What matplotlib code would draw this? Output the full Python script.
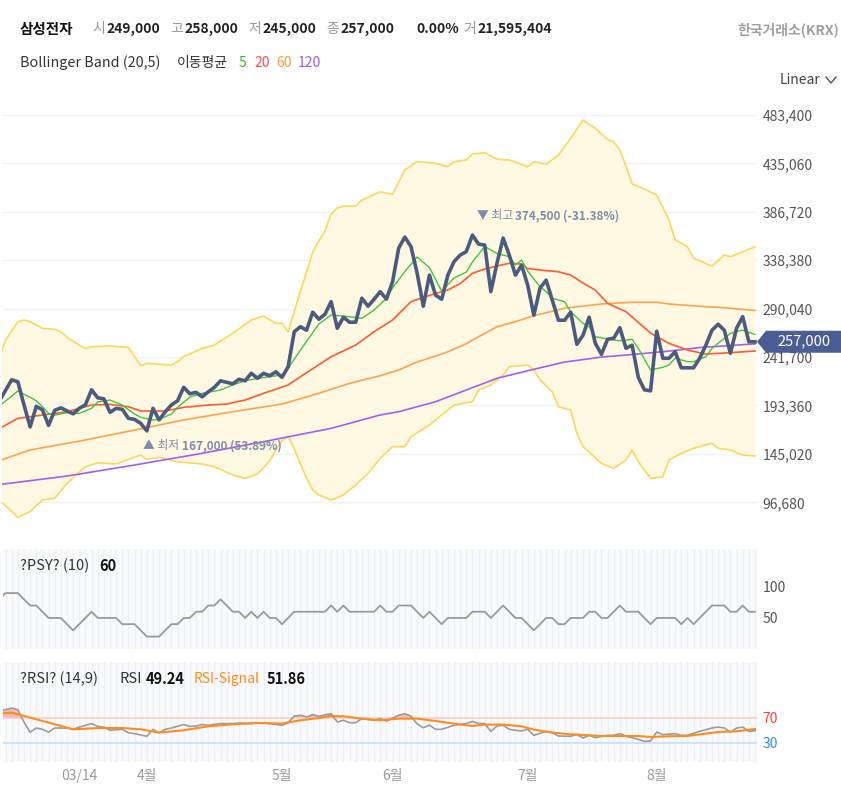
import numpy as np
import matplotlib
matplotlib.use("Agg")
import matplotlib.pyplot as plt
import matplotlib.transforms as mtransforms
from matplotlib.patches import Polygon
from matplotlib.lines import Line2D

plt.rcParams['font.family'] = ['Noto Sans CJK KR', 'DejaVu Sans']

# ---- values (index = trading day) ----
close = [198000, 208500, 219000, 217000, 194000, 172000, 192500, 189000, 173500, 188500,
         191000, 188000, 185000, 190500, 194000, 209000, 201000, 200000, 186500, 190500,
         189500, 180500, 179500, 175500, 168000, 190500, 179000, 187000, 194000, 198000,
         211500, 205000, 206500, 202000, 207000, 211500, 218000, 216500, 215000, 219500,
         218000, 225500, 220500, 225500, 223000, 227000, 221500, 232000, 267000, 272000,
         268500, 286500, 279500, 284500, 297000, 270500, 281500, 276500, 276500, 300500,
         292500, 299500, 307000, 299500, 317000, 350500, 361500, 352000, 325500, 292500,
         323500, 303500, 299500, 323500, 337000, 343500, 347000, 363500, 354500, 353500,
         307000, 335500, 360500, 343500, 323500, 333500, 313500, 283500, 310500, 318500,
         298500, 278500, 278500, 286500, 254500, 263500, 281500, 255500, 244500, 259500,
         260500, 271000, 250500, 253500, 221500, 209000, 208000, 267500, 240500, 240500,
         247000, 231000, 231000, 231000, 240500, 253500, 268500, 274500, 268500, 245500,
         270500, 282000, 257000, 257000]

ma5_x = [0, 3, 5, 6, 7, 8, 9, 11, 13, 15, 16, 18, 20, 22, 23, 25, 26, 28, 29, 31,
         33, 36, 38, 40, 43, 46, 47, 49, 52, 54, 57, 59, 61, 63, 64, 66, 68, 70, 72, 74,
         76, 77, 79, 81, 83, 84, 85, 86, 87, 88, 89, 90, 92, 93, 95, 96, 97, 100, 101, 103,
         104, 106, 108, 109, 110, 112, 113, 115, 116, 118, 119, 121, 123]
ma5 = [192800, 207800, 201500, 198100, 192100, 185500, 183800, 186100, 185500, 190500,
       196800, 198800, 193800, 184800, 181500, 178900, 179500, 184800, 191500, 201800,
       205500, 208800, 213800, 218100, 221300, 223800, 230500, 248700, 274700, 283700,
       282000, 280400, 288700, 300200, 310700, 327100, 341600, 331100, 307600, 320600,
       326600, 336600, 352100, 345100, 341900, 333600, 338600, 327600, 319600, 312000,
       307000, 300400, 297000, 287000, 275400, 272000, 262000, 258700, 258000, 259400,
       250400, 228800, 231500, 233800, 240500, 237100, 237100, 242100, 250400, 260400,
       265400, 268700, 264200]

ma20_x = [0, 3, 7, 11, 15, 18, 21, 23, 27, 30, 34, 37, 40, 43, 47, 50, 54, 58, 61, 64,
          67, 69, 71, 73, 75, 77, 79, 81, 83, 85, 86, 88, 91, 93, 95, 97, 99, 102, 106, 109,
          112, 115, 117, 120, 123]
ma20 = [170300, 180500, 183800, 187100, 193800, 194500, 192100, 187800, 187800, 191500,
        193800, 194800, 198800, 205500, 213800, 226100, 242000, 253700, 267000, 278700,
        297000, 301200, 305200, 308700, 315100, 325300, 329600, 332600, 335300, 334600,
        330100, 328600, 326900, 323600, 315600, 308600, 295400, 287000, 265700, 255400,
        248700, 244700, 245400, 246500, 247800]

ma60_x = [0, 5, 14, 22, 30, 38, 46, 52, 57, 62, 65, 68, 71, 73, 76, 78, 81, 84, 87, 89,
          92, 98, 103, 107, 109, 115, 117, 123]
ma60 = [138400, 148900, 158900, 168800, 178900, 187100, 194800, 205500, 215500, 223100,
        228800, 236800, 242700, 247000, 255000, 262000, 272000, 277000, 283000, 286000,
        290400, 294700, 296400, 296400, 294700, 292000, 291400, 288200]

ma120_x = [0, 11, 22, 33, 43, 54, 62, 65, 71, 76, 81, 87, 92, 98, 103, 109, 114, 119, 123]
ma120 = [114400, 122900, 133900, 145600, 157200, 170500, 183900, 187100, 197100, 208800,
         220500, 229500, 236700, 241700, 244200, 247700, 251200, 253200, 254900]

bbu_x = [0, 1, 3, 4, 5, 7, 9, 10, 11, 13, 14, 15, 18, 21, 22, 23, 24, 26, 28, 29,
         30, 33, 35, 38, 41, 43, 45, 46, 47, 48, 49, 50, 51, 52, 53, 54, 55, 56, 58, 59,
         60, 62, 64, 65, 66, 68, 71, 73, 74, 76, 77, 79, 81, 83, 86, 87, 89, 91, 93, 95,
         97, 99, 100, 101, 102, 103, 105, 107, 109, 110, 112, 113, 116, 118, 119, 121, 123]
bbu = [241800, 258700, 277000, 278700, 277000, 270400, 269400, 267000, 261400, 253700,
       250400, 252000, 252700, 251400, 242100, 233100, 235500, 234500, 233800, 237100,
       242100, 250400, 253700, 265400, 278700, 282700, 275400, 275400, 267000, 287000,
       307700, 326600, 346600, 357600, 367600, 384500, 390500, 392500, 392500, 398500,
       401200, 406800, 404200, 416500, 428500, 436800, 435200, 431800, 436800, 438500,
       444500, 445800, 439200, 438500, 431800, 436800, 434200, 443500, 460100, 478400,
       470100, 459100, 456700, 448500, 432500, 414500, 409500, 403500, 378600, 358600,
       351900, 340300, 332600, 343600, 341900, 346900, 351900]

bbl_x = [0, 3, 5, 7, 9, 11, 14, 16, 19, 23, 24, 26, 29, 33, 35, 38, 40, 42, 44, 45,
         46, 47, 48, 49, 50, 51, 52, 54, 56, 58, 60, 62, 64, 66, 67, 70, 72, 74, 77, 78,
         80, 82, 83, 86, 87, 88, 90, 91, 93, 94, 95, 98, 100, 102, 103, 104, 106, 108, 109, 111,
         113, 116, 117, 119, 121, 123]
bbl = [99000, 81700, 87300, 99000, 100700, 115600, 132200, 136200, 134900, 143900,
       139600, 141600, 137200, 134900, 132200, 123900, 120600, 124900, 137900, 148900,
       157900, 162800, 149900, 134900, 120900, 108900, 103900, 99000, 104000, 113900,
       125600, 140600, 152200, 152200, 162200, 173900, 183800, 193800, 197100, 208800,
       213800, 223800, 232100, 233800, 228800, 218800, 207100, 192100, 188800, 165600,
       152200, 135600, 130600, 138900, 148900, 137200, 120600, 122200, 138900, 145600,
       150600, 155600, 150600, 148900, 143900, 142900]

psy = [80, 90, 90, 90, 80, 70, 70, 60, 50, 50,
       50, 40, 30, 40, 50, 60, 50, 50, 50, 50,
       40, 40, 40, 30, 20, 20, 20, 30, 40, 40,
       50, 50, 60, 60, 70, 70, 80, 70, 60, 60,
       50, 60, 50, 60, 50, 50, 40, 50, 60, 60,
       60, 60, 60, 60, 70, 60, 70, 60, 60, 60,
       60, 60, 70, 60, 60, 70, 70, 70, 60, 50,
       60, 50, 40, 50, 50, 50, 50, 60, 60, 60,
       50, 60, 70, 60, 50, 50, 40, 30, 40, 50,
       50, 40, 40, 50, 50, 50, 60, 60, 50, 50,
       60, 70, 60, 60, 60, 50, 40, 50, 50, 50,
       50, 40, 50, 40, 50, 60, 70, 70, 70, 60,
       60, 70, 60, 60]

rsi_x = [0, 2, 3, 4, 5, 6, 7, 8, 9, 11, 12, 13, 15, 16, 17, 18, 20, 21, 22, 24,
         25, 26, 27, 28, 30, 31, 32, 33, 34, 36, 38, 39, 41, 42, 44, 46, 47, 48, 49, 50,
         51, 52, 54, 55, 56, 57, 58, 59, 61, 62, 63, 65, 66, 67, 68, 69, 70, 71, 72, 74,
         76, 77, 78, 79, 80, 81, 82, 83, 85, 86, 87, 89, 90, 91, 93, 94, 95, 96, 97, 99,
         100, 101, 102, 104, 105, 106, 107, 108, 110, 111, 112, 114, 116, 117, 118, 119, 120, 121, 122, 123]
rsi = [80, 85, 82.5, 63, 47, 53.5, 51.5, 47, 53.5, 53.5, 51.5, 55, 60.5, 56, 55, 50, 51.5, 46, 44.7, 40.5,
       51.5, 46, 51.5, 53.5, 59, 56, 56.7, 59, 57.8, 60.5, 60.5, 61.4, 60.5, 62, 60.5, 57.8, 62, 72.4, 73.5, 70.9,
       74.6, 72, 76.2, 63, 65.7, 62, 62, 68.3, 65.7, 68.3, 64.6, 73.5, 76.2, 72, 60, 54, 58, 51.5, 51.5, 57.8,
       60.5, 64, 60.5, 60.5, 48.3, 56.7, 57.8, 51.5, 48.8, 51.5, 42, 48.3, 46.3, 40.9, 40.5, 43.6, 37.8, 42, 38.4, 42,
       42, 44.7, 40.5, 35.7, 32.6, 33, 47.2, 43.1, 44.7, 42, 42, 48.3, 53.5, 55, 53.5, 47.2, 53.5, 55, 48.3, 49.24]

sig_x = [0, 2, 12, 16, 20, 23, 26, 30, 34, 38, 42, 46, 49, 52, 54, 56, 59, 62, 65, 68,
         71, 74, 77, 79, 82, 85, 87, 90, 93, 96, 98, 101, 104, 106, 109, 112, 115, 117, 120, 123]
sig = [76.2, 77.8, 51.5, 53.5, 53.5, 51.5, 46.3, 50, 56.2, 59.4, 61.4, 60.5, 65.7, 69.3, 72.4, 72, 68.3, 65.7, 68.3, 68.3,
       64.6, 60.5, 56.7, 58.9, 58.9, 56.2, 51, 46.3, 43.6, 42, 40.9, 40.9, 40.9, 39.4, 40.5, 40.9, 44.7, 47.2, 48.3, 51.86]

tick_idx = [13, 24, 46, 64, 86, 107]
tick_lbl = ['03/14', '4월', '5월', '6월', '7월', '8월']
price_ticks = [96680, 145020, 193360, 241700, 290040, 338380, 386720, 435060, 483400]
lo_idx, lo_val = 24, 167000
hi_idx, hi_val = 78, 374500
last_close = 257000

# ---- layout ----
W, H = 841, 799
fig = plt.figure(figsize=(W / 100, H / 100), dpi=100)


def box(l, t, r, b):
    return [l / W, 1 - b / H, (r - l) / W, (b - t) / H]


X0, DX = -0.59, 6.143  # pixel of day 0, pixels per day


def xr(l, r):
    return ((l - X0) / DX, (r - X0) / DX)


days = np.arange(len(close))

# ---- price panel ----
ax = fig.add_axes(box(2, 100, 757, 540))
ax.set_xlim(*xr(2, 757))
ax.set_ylim(59040, 498380)
for s in ax.spines.values():
    s.set_visible(False)
ax.set_xticks([])
ax.yaxis.tick_right()
ax.set_yticks(price_ticks, [f'{v:,}' for v in price_ticks])
ax.tick_params(axis='y', length=0, pad=4, labelsize=10, labelcolor='#555555')
ax.grid(axis='y', color='#f2f2f2', lw=1)
ax.set_axisbelow(True)

ax.fill(np.r_[bbu_x, bbl_x[::-1]], np.r_[bbu, bbl[::-1]], color='#fff9e3', lw=0, zorder=1)
ax.plot(bbu_x, bbu, color='#fcd75a', lw=1.2, zorder=2)
ax.plot(bbl_x, bbl, color='#fcd75a', lw=1.2, zorder=2)
ax.plot(ma120_x, ma120, color='#a35ff0', lw=1.2, zorder=3)
ax.plot(ma60_x, ma60, color='#ffa24a', lw=1.2, zorder=3)
ax.plot(ma20_x, ma20, color='#ff5a30', lw=1.2, zorder=3)
ax.plot(ma5_x, ma5, color='#3fc63f', lw=1.0, zorder=3)
ax.plot(days, close, color='#4b5b80', lw=2.6, zorder=4)

ann_c = '#7f8baa'
ax.annotate('▲ 최저', xy=(lo_idx, lo_val), xytext=(-4, -7), textcoords='offset pixels',
            ha='left', va='top', fontsize=8.5, color=ann_c, zorder=6)
ax.annotate(f'{lo_val:,} ({(last_close / lo_val - 1) * 100:.2f}%)', xy=(lo_idx, lo_val),
            xytext=(35, -7), textcoords='offset pixels', ha='left', va='top',
            fontsize=8.5, fontweight='bold', color=ann_c, zorder=6)
ax.annotate('▼ 최고', xy=(hi_idx, hi_val), xytext=(-2, 2), textcoords='offset pixels',
            ha='left', va='bottom', fontsize=8.5, color=ann_c, zorder=6)
ax.annotate(f'{hi_val:,} ({(last_close / hi_val - 1) * 100:.2f}%)', xy=(hi_idx, hi_val),
            xytext=(36, 2), textcoords='offset pixels', ha='left', va='bottom',
            fontsize=8.5, fontweight='bold', color=ann_c, zorder=6)

# last price tag
blend = mtransforms.blended_transform_factory(ax.transAxes, ax.transData)
upp = (498380 - 59040) / 440  # value per pixel
half = 11 * upp
aw = 755
tag = Polygon([(1.0, last_close), (1 + 9 / aw, last_close + half), (1 + 84 / aw, last_close + half),
               (1 + 84 / aw, last_close - half), (1 + 9 / aw, last_close - half)],
              closed=True, transform=blend, facecolor='#4a5d94', edgecolor='none',
              clip_on=False, zorder=10)
ax.add_patch(tag)
ax.text(1 + 47 / aw, last_close, f'{last_close:,}', transform=blend, ha='center', va='center',
        color='white', fontsize=10.5, clip_on=False, zorder=11)

# ---- PSY panel ----
ap = fig.add_axes(box(3, 549, 757, 649))
ap.set_xlim(*xr(3, 757))
ap.set_ylim(0, 161)
ap.set_facecolor('#f9fafc')
ap.vlines(days, 0, 1, transform=ap.get_xaxis_transform(), colors='#eef0f6', lw=0.9, zorder=0)
for s in ap.spines.values():
    s.set_visible(False)
ap.set_xticks([])
ap.yaxis.tick_right()
ap.set_yticks([50, 100])
ap.tick_params(axis='y', length=0, pad=4, labelsize=10, labelcolor='#555555')
ap.plot(days, psy, color='#9a9a9a', lw=1.3)

# ---- RSI panel ----
ar = fig.add_axes(box(3, 662, 757, 762))
ar.set_xlim(*xr(3, 757))
ar.set_ylim(0, 157.5)
ar.set_facecolor('#f9fafc')
ar.vlines(days, 0, 1, transform=ar.get_xaxis_transform(), colors='#eef0f6', lw=0.9, zorder=0)
for s in ar.spines.values():
    s.set_visible(False)
ar.axhline(70, color='#fbd3d3', lw=1.5, zorder=1)
ar.axhline(30, color='#cfe2fa', lw=1.5, zorder=1)
rsi_a = np.array(rsi)
ar.fill_between(rsi_x, rsi_a, 70, where=rsi_a > 70, interpolate=True,
                color='#f6bcbc', lw=0, zorder=2)
ar.plot(rsi_x, rsi, color='#9c9c9c', lw=1.2, zorder=3)
ar.plot(sig_x, sig, color='#ff8c1a', lw=1.5, zorder=4)
ar.yaxis.tick_right()
ar.set_yticks([30, 70])
ar.tick_params(axis='y', length=0, pad=4, labelsize=10)
for lab, c in zip(ar.get_yticklabels(), ['#2f8cff', '#ff3b3b']):
    lab.set_color(c)
ar.set_xticks(tick_idx, tick_lbl)
ar.tick_params(axis='x', length=0, pad=5, labelsize=10, labelcolor='#999999')


# ---- header texts ----
def ft(x, y, s, **kw):
    kw.setdefault('fontsize', 10)
    kw.setdefault('color', '#222222')
    fig.text(x / W, 1 - y / H, s, ha=kw.pop('ha', 'left'), va='center', **kw)


ft(20, 29, '삼성전자', fontweight='bold', fontsize=10.5, color='#111111')
ft(92, 29, '시', color='#999999')
ft(106, 29, '249,000', fontweight='bold')
ft(170, 29, '고', color='#999999')
ft(184, 29, '258,000', fontweight='bold')
ft(248, 29, '저', color='#999999')
ft(262, 29, '245,000', fontweight='bold')
ft(326, 29, '종', color='#999999')
ft(340, 29, '257,000', fontweight='bold')
ft(416, 29, '0.00%', fontweight='bold')
ft(463, 29, '거', color='#999999')
ft(477, 29, '21,595,404', fontweight='bold')
ft(839, 30, '한국거래소(KRX)', ha='right', fontweight='bold', color='#a0a0a0')

ft(20, 63, 'Bollinger Band (20,5)', color='#333333', fontsize=10.3)
ft(177, 63, '이동평균', color='#333333')
ft(239, 63, '5', color='#2fbf2f')
ft(254, 63, '20', color='#ff4b4b')
ft(276, 63, '60', color='#ff9a3c')
ft(298, 63, '120', color='#9b59f0')
ft(820, 80, 'Linear', ha='right', color='#444444')
fig.add_artist(Line2D([826 / W, 831 / W, 836 / W], [1 - 77 / H, 1 - 83 / H, 1 - 77 / H],
                      transform=fig.transFigure, color='#555555', lw=1))

ft(20, 566, '?PSY? (10)', color='#333333', fontsize=10.5)
ft(99, 566, str(psy[-1]), fontweight='bold', color='#111111', fontsize=10.5)
ft(20, 679, '?RSI? (14,9)', color='#333333', fontsize=10.5)
ft(119, 679, 'RSI', color='#333333', fontsize=10.5)
ft(146, 679, f'{rsi[-1]:.2f}', fontweight='bold', color='#111111', fontsize=10.5)
ft(194, 679, 'RSI-Signal', color='#ff8c1a', fontsize=10)
ft(267, 679, f'{sig[-1]:.2f}', fontweight='bold', color='#111111', fontsize=10.5)

fig.savefig('out.png', dpi=100)
